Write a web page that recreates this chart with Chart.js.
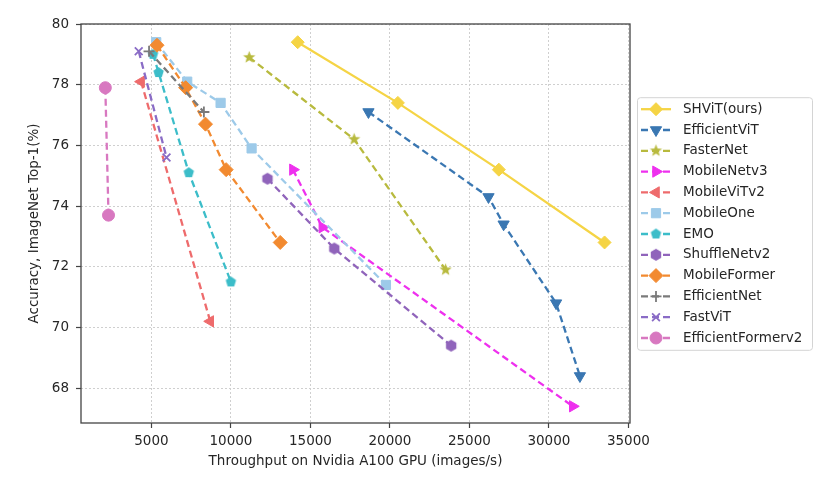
<!DOCTYPE html>
<html lang="en">
<head>
    <meta charset="UTF-8">
    <title>Throughput vs Accuracy</title>
    <script src="https://cdn.jsdelivr.net/npm/chart.js"></script>
    <style>
        body { margin: 0; background: #fff; }
        #wrap { width: 831px; height: 485px; }
    </style>
</head>
<body>
    <div id="wrap"><canvas id="throughputChart" width="831" height="485"></canvas></div>
    <script>
        // throughput (images/s) and top-1 accuracy, one pair of arrays per model family
        const shvitX = [14200, 20500, 26850, 33500];
        const shvitY = [79.4, 77.4, 75.2, 72.8];
        const efficientVitX = [18650, 26200, 27150, 30450, 31950];
        const efficientVitY = [77.1, 74.3, 73.4, 70.8, 68.4];
        const fasterNetX = [11150, 17750, 23500];
        const fasterNetY = [78.9, 76.2, 71.9];
        const mobileNetV3X = [13900, 15750, 31500];
        const mobileNetV3Y = [75.2, 73.3, 67.4];
        const mobileVitV2X = [4350, 8700];
        const mobileVitV2Y = [78.1, 70.2];
        const mobileOneX = [5300, 7250, 9350, 11300, 19750];
        const mobileOneY = [79.4, 78.1, 77.4, 75.9, 71.4];
        const emoX = [5100, 5450, 7350, 10000];
        const emoY = [79.0, 78.4, 75.1, 71.5];
        const shuffleNetX = [12300, 16500, 23850];
        const shuffleNetY = [74.9, 72.6, 69.4];
        const mobileFormerX = [5350, 7150, 8400, 9700, 13100];
        const mobileFormerY = [79.3, 77.9, 76.7, 75.2, 72.8];
        const efficientNetX = [4850, 8300];
        const efficientNetY = [79.1, 77.1];
        const fastVitX = [4200, 5950];
        const fastVitY = [79.1, 75.6];
        const efficientFormerX = [2100, 2300];
        const efficientFormerY = [77.9, 73.7];

        const xTicks = [5000, 10000, 15000, 20000, 25000, 30000, 35000];
        const yTicks = [68, 70, 72, 74, 76, 78, 80];

        const FONT = 'DejaVu Sans';
        const FONT_SIZE = 13.5;
        const TEXT = '#262626';

        // small canvases for the matplotlib markers Chart.js lacks (pentagon, hexagon, filled star)
        function polygonMarker(color, r, sides) {
            const size = Math.ceil(r * 2 + 2);
            const c = document.createElement('canvas');
            c.width = size; c.height = size;
            const g = c.getContext('2d');
            g.fillStyle = color;
            g.beginPath();
            for (let i = 0; i < sides; i++) {
                const a = i * 2 * Math.PI / sides;
                g.lineTo(size / 2 + r * Math.sin(a), size / 2 - r * Math.cos(a));
            }
            g.closePath();
            g.fill();
            return c;
        }
        function starMarker(color, r) {
            const size = Math.ceil(r * 2 + 2);
            const c = document.createElement('canvas');
            c.width = size; c.height = size;
            const g = c.getContext('2d');
            g.fillStyle = color;
            g.beginPath();
            for (let i = 0; i < 10; i++) {
                const a = i * Math.PI / 5;
                const rr = i % 2 ? r * 0.42 : r;
                g.lineTo(size / 2 + rr * Math.sin(a), size / 2 - rr * Math.cos(a));
            }
            g.closePath();
            g.fill();
            return c;
        }

        function points(xs, ys) {
            return xs.map((x, i) => ({ x: x, y: ys[i] }));
        }

        function serie(label, xs, ys, color, style, radius, extra) {
            return Object.assign({
                label: label,
                data: points(xs, ys),
                borderColor: color,
                backgroundColor: color,
                borderWidth: 2.3,
                borderDash: [7, 4],
                pointStyle: style,
                pointRadius: radius,
                pointHoverRadius: radius,
                pointBackgroundColor: color,
                pointBorderColor: color,
                pointBorderWidth: 1,
                pointRotation: 0,
                tension: 0,
                fill: false
            }, extra || {});
        }

        const datasets = [
            serie('SHViT(ours)', shvitX, shvitY, '#f5d445', 'rectRot', 6.5, { borderDash: [] }),
            serie('EfficientViT', efficientVitX, efficientVitY, '#3a77b2', 'triangle', 6.5, { pointRotation: 180 }),
            serie('FasterNet', fasterNetX, fasterNetY, '#b8ba3e', starMarker('#b8ba3e', 6.5), 6),
            serie('MobileNetv3', mobileNetV3X, mobileNetV3Y, '#ee30ee', 'triangle', 6.5, { pointRotation: 90 }),
            serie('MobileViTv2', mobileVitV2X, mobileVitV2Y, '#ee6b6c', 'triangle', 6.5, { pointRotation: -90 }),
            serie('MobileOne', mobileOneX, mobileOneY, '#9dcae9', 'rect', 6.5),
            serie('EMO', emoX, emoY, '#3cbdc9', polygonMarker('#3cbdc9', 5.5, 5), 5.5),
            serie('ShuffleNetv2', shuffleNetX, shuffleNetY, '#9064bb', polygonMarker('#9064bb', 6, 6), 6),
            serie('MobileFormer', mobileFormerX, mobileFormerY, '#f28a30', 'rectRot', 7),
            serie('EfficientNet', efficientNetX, efficientNetY, '#7a7a7a', 'cross', 5.5, { pointBorderWidth: 1.8 }),
            serie('FastViT', fastVitX, fastVitY, '#8a6cc6', 'crossRot', 5.5, { pointBorderWidth: 1.8 }),
            serie('EfficientFormerv2', efficientFormerX, efficientFormerY, '#d878c0', 'circle', 6)
        ];
        // later series sit on top, as in the original plot
        datasets.forEach((d, i) => { d.order = datasets.length - i; });

        // top/right spines and the boxed legend on the right
        const frameAndLegend = {
            id: 'frameAndLegend',
            afterDatasetsDraw(chart) {
                const { ctx, chartArea: a } = chart;
                ctx.save();
                ctx.strokeStyle = '#444444';
                ctx.lineWidth = 1.3;
                ctx.strokeRect(a.left, a.top, a.right - a.left, a.bottom - a.top);
                ctx.restore();
            },
            afterDraw(chart) {
                const { ctx, chartArea: a } = chart;
                const sets = chart.data.datasets;
                const rowH = 20.8;
                const boxW = 175;
                const boxH = rowH * sets.length + 3;
                const bx = a.right + 7;
                const by = (a.top + a.bottom) / 2 - boxH / 2;
                ctx.save();
                ctx.strokeStyle = '#d4d4d4';
                ctx.lineWidth = 1;
                ctx.beginPath();
                ctx.roundRect(bx + 0.5, by + 0.5, boxW, boxH, 3);
                ctx.stroke();
                sets.forEach((ds, i) => {
                    const y = by + 12 + i * rowH;
                    ctx.strokeStyle = ds.borderColor;
                    ctx.lineWidth = ds.borderWidth;
                    ctx.setLineDash(ds.borderDash);
                    ctx.beginPath();
                    ctx.moveTo(bx + 4, y);
                    ctx.lineTo(bx + 34, y);
                    ctx.stroke();
                    ctx.setLineDash([]);
                    ctx.fillStyle = ds.pointBackgroundColor;
                    ctx.strokeStyle = ds.pointBorderColor;
                    ctx.lineWidth = ds.pointBorderWidth;
                    Chart.helpers.drawPoint(ctx, {
                        pointStyle: ds.pointStyle,
                        rotation: ds.pointRotation,
                        radius: ds.pointRadius,
                        borderWidth: ds.pointBorderWidth
                    }, bx + 19, y);
                    ctx.fillStyle = TEXT;
                    ctx.font = FONT_SIZE + 'px "' + FONT + '"';
                    ctx.textBaseline = 'middle';
                    ctx.textAlign = 'left';
                    ctx.fillText(ds.label, bx + 46, y);
                });
                ctx.restore();
            }
        };

        const gridLines = {
            color: '#cfcfcf',
            lineWidth: 1,
            tickLength: 5,
            tickColor: '#444444',
            tickWidth: 1.2,
            tickBorderDash: []
        };

        new Chart(document.getElementById('throughputChart'), {
            type: 'line',
            data: { datasets: datasets },
            plugins: [frameAndLegend],
            options: {
                responsive: false,
                animation: false,
                devicePixelRatio: 1,
                layout: { padding: { left: 0, top: 24, right: 201, bottom: 0 } },
                plugins: { legend: { display: false }, tooltip: { enabled: false } },
                scales: {
                    x: {
                        type: 'linear',
                        min: 570,
                        max: 35100,
                        afterBuildTicks: s => { s.ticks = xTicks.map(v => ({ value: v })); },
                        afterFit: s => { s.height = 62; },
                        ticks: {
                            color: TEXT, padding: 5, maxRotation: 0, autoSkip: false,
                            font: { family: FONT, size: FONT_SIZE },
                            callback: v => String(v)
                        },
                        grid: gridLines,
                        border: { display: false, dash: [2, 2] },
                        title: {
                            display: true,
                            text: 'Throughput on Nvidia A100 GPU (images/s)',
                            color: TEXT,
                            font: { family: FONT, size: FONT_SIZE },
                            padding: { top: 0, bottom: 15 }
                        }
                    },
                    y: {
                        type: 'linear',
                        min: 66.85,
                        max: 80,
                        afterBuildTicks: s => { s.ticks = yTicks.map(v => ({ value: v })); },
                        afterFit: s => { s.width = 81; },
                        ticks: {
                            color: TEXT, padding: 7,
                            font: { family: FONT, size: FONT_SIZE },
                            callback: v => String(v)
                        },
                        grid: gridLines,
                        border: { display: false, dash: [2, 2] },
                        title: {
                            display: true,
                            text: 'Accuracy, ImageNet Top-1(%)',
                            color: TEXT,
                            font: { family: FONT, size: FONT_SIZE },
                            padding: { top: 26, bottom: 0 }
                        }
                    }
                }
            }
        });
    </script>
</body>
</html>
